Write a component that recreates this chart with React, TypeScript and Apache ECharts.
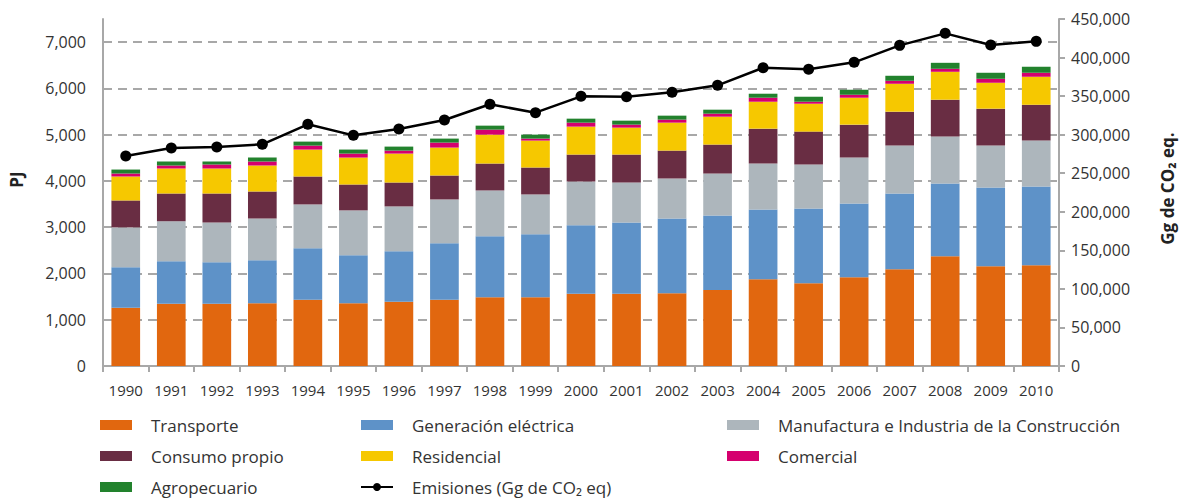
import React, { useEffect, useRef } from "react";
import * as echarts from "echarts";

const years = ["1990","1991","1992","1993","1994","1995","1996","1997","1998","1999","2000","2001","2002","2003","2004","2005","2006","2007","2008","2009","2010"];
const transporte = [1257,1343,1343,1358,1430,1358,1386,1430,1487,1487,1559,1559,1574,1645,1875,1789,1919,2091,2371,2156,2177];
const generacion = [877,920,899,927,1114,1035,1093,1221,1315,1358,1481,1545,1616,1609,1509,1617,1595,1638,1574,1703,1703];
const manufactura = [862,863,862,905,948,970,970,949,992,863,948,862,863,906,992,948,991,1035,1013,905,992];
const consumo = [582,603,625,582,604,560,517,517,582,582,582,604,603,626,754,712,712,733,798,798,776];
const residencial = [518,539,539,561,582,582,625,604,625,582,604,582,604,603,582,603,582,603,603,560,603];
const comercial = [64,65,86,86,86,86,65,108,108,43,86,65,65,65,87,43,64,65,65,86,87];
const agropecuario = [86,86,65,86,86,87,86,86,86,86,86,86,86,86,86,108,108,108,129,130,129];
const emisiones = [272300,282700,284000,287500,313400,299100,307300,319000,339400,328500,349700,349200,354900,364000,386800,384700,393800,415800,431400,416300,421000];

const barSeries = [
  { name: "Transporte", data: transporte, color: "#E1670F" },
  { name: "Generación eléctrica", data: generacion, color: "#5E92C8" },
  { name: "Manufactura e Industria de la Construcción", data: manufactura, color: "#ADB6BC" },
  { name: "Consumo propio", data: consumo, color: "#692D43" },
  { name: "Residencial", data: residencial, color: "#F6C800" },
  { name: "Comercial", data: comercial, color: "#D5006E" },
  { name: "Agropecuario", data: agropecuario, color: "#22822D" },
];
const lineName = "Emisiones (Gg de CO₂ eq)";

const FONT = "'Open Sans', 'DejaVu Sans', sans-serif";
const GRID_COLOR = "#A8A8A8";

export default function App() {
  const ref = useRef<HTMLDivElement>(null);
  useEffect(() => {
    document.body.style.margin = "0";
    const chart = echarts.init(ref.current!, null, { renderer: "svg" });
    const legendText = { fontFamily: FONT, fontSize: 17, color: "#333", lineHeight: 18, padding: [0, 0, 0, 14] };
    const mkLegend = (left: number, names: string[]) => ({
      orient: "vertical",
      left,
      top: 416,
      height: 82,
      padding: 0,
      itemWidth: 32,
      itemHeight: 10,
      itemGap: 13,
      textStyle: legendText,
      data: names.map((n) => (n === lineName ? { name: n } : { name: n, icon: "rect" })),
    });
    chart.setOption({
      animation: false,
      textStyle: { fontFamily: FONT },
      grid: { left: 100, right: 120, top: 19, bottom: 134 },
      legend: [
        mkLegend(100, ["Transporte", "Consumo propio", "Agropecuario"]),
        mkLegend(360, ["Generación eléctrica", "Residencial", lineName]),
        mkLegend(727, ["Manufactura e Industria de la Construcción", "Comercial"]),
      ],
      xAxis: {
        type: "category",
        data: years,
        axisLine: { lineStyle: { color: GRID_COLOR, width: 2 } },
        axisTick: { show: true, length: 6, lineStyle: { color: GRID_COLOR, width: 2 } },
        axisLabel: { color: "#333", fontSize: 15, margin: 16, interval: 0, fontFamily: FONT },
      },
      yAxis: [
        {
          type: "value",
          min: 0,
          max: 7500,
          interval: 1000,
          name: "PJ",
          nameLocation: "middle",
          nameGap: 78,
          nameRotate: 90,
          nameTextStyle: { fontSize: 17, fontWeight: "bold", color: "#222", fontFamily: FONT, padding: [0, 0, 0, 26] },
          axisLine: { show: true, lineStyle: { color: GRID_COLOR, width: 2 } },
          axisTick: { show: false },
          axisLabel: {
            color: "#333",
            fontSize: 16,
            margin: 17,
            showMaxLabel: false,
            fontFamily: FONT,
            formatter: (v: number) => (v >= 7500 ? "" : v.toLocaleString("en-US")),
          },
          splitLine: { show: true, showMaxLine: false, showMinLine: false, lineStyle: { color: GRID_COLOR, width: 2, type: [9, 6] } },
        },
        {
          type: "value",
          min: 0,
          max: 450000,
          interval: 50000,
          position: "right",
          name: "Gg de CO₂ eq.",
          nameLocation: "middle",
          nameGap: 100,
          nameRotate: 90,
          nameTextStyle: { fontSize: 17, fontWeight: "bold", color: "#222", fontFamily: FONT, padding: [0, 0, 0, 8] },
          axisLine: { show: true, lineStyle: { color: GRID_COLOR, width: 2 } },
          axisTick: { show: true, length: 6, lineStyle: { color: GRID_COLOR, width: 2 } },
          axisLabel: {
            color: "#333",
            fontSize: 16,
            margin: 12,
            fontFamily: FONT,
            formatter: (v: number) => v.toLocaleString("en-US"),
          },
          splitLine: { show: false },
        },
      ],
      series: [
        ...barSeries.map((s) => ({
          name: s.name,
          type: "bar",
          stack: "total",
          data: s.data,
          barWidth: "63%",
          itemStyle: { color: s.color },
        })),
        {
          name: lineName,
          type: "line",
          yAxisIndex: 1,
          data: emisiones,
          symbol: "circle",
          symbolSize: 11,
          lineStyle: { color: "#000", width: 2.5 },
          itemStyle: { color: "#000" },
          z: 5,
        },
      ],
    });
    return () => chart.dispose();
  }, []);
  return <div ref={ref} style={{ width: 1184, height: 500 }} />;
}
